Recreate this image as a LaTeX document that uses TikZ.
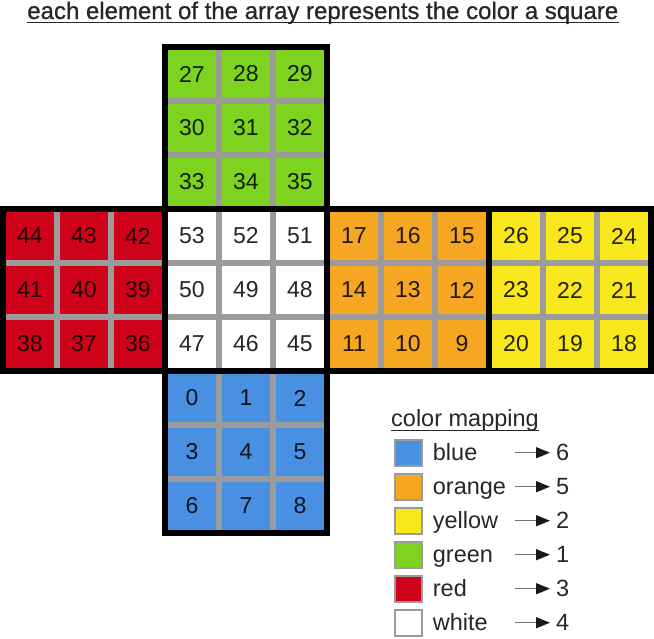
\documentclass[tikz,border=0pt]{standalone}
\usepackage{fontspec}
\setmainfont{Liberation Sans}
\usetikzlibrary{arrows.meta,positioning}

\definecolor{cgreen}{HTML}{7ED321}
\definecolor{cred}{HTML}{D0021B}
\definecolor{corange}{HTML}{F5A623}
\definecolor{cyellow}{HTML}{F8E71C}
\definecolor{cblue}{HTML}{4A90E2}
\definecolor{cgrid}{HTML}{9B9B9B}

\begin{document}
\begin{tikzpicture}[
  x=1pt, y=-1pt,
  face/.style={draw=black, line width=6pt, minimum size=162pt, inner sep=0pt, outer sep=0pt},
  gridline/.style={draw=cgrid, line width=5.5pt},
  num/.style={font=\fontsize{23}{27}\selectfont, text=black, text opacity=0.85, inner sep=0pt},
  heading/.style={font=\fontsize{24}{28}\selectfont\addfontfeature{FakeBold=0.7}, text=black!85, inner sep=0pt},
  swatch/.style={draw=cgrid, line width=2pt, minimum width=27pt, minimum height=26pt, inner sep=0pt},
  maptext/.style={font=\fontsize{23.5}{28}\selectfont, text=black!85, inner sep=0pt},
  maparrow/.style={draw=black!55, line width=1.5pt, -{Triangle[length=14pt,width=11pt,black!90]}}
]
\useasboundingbox (0,0) rectangle (654,638);

% title
\node[heading, anchor=base] (title) at (322.8,19) {each element of the array represents the color a square};
\draw[line width=1.5pt, black!85] ([yshift=-3.7pt]title.base west) -- ([yshift=-3.7pt]title.base east);

% the six faces of the cube net
\foreach \fn/\fx/\fy/\base/\sgn/\col in {top/165/47/27/1/cgreen, left/3/209/44/-1/cred,
    front/165/209/53/-1/white, right/327/209/17/-1/corange, back/489/209/26/-1/cyellow,
    bottom/165/371/0/1/cblue} {
  \node[face, fill=\col] (\fn) at (\fx+81,\fy+81) {};
  \foreach \k in {54,108} {
    \draw[gridline] (\fx+\k,\fy+3) -- (\fx+\k,\fy+159);
    \draw[gridline] (\fx+3,\fy+\k) -- (\fx+159,\fy+\k);
  }
  \foreach \r in {0,1,2}
    \foreach \c in {0,1,2} {
      \pgfmathtruncatemacro{\n}{\base+\sgn*(3*\r+\c)}
      \node[num] (c\n) at (\fx+27+54*\c,\fy+27+54*\r) {\n};
    }
}

% legend
\node[maptext, anchor=base west] (maptitle) at (391,426.7) {color mapping};
\draw[line width=1.5pt, black!85] ([yshift=-4pt]maptitle.base west) -- ([yshift=-4pt]maptitle.base east);
\foreach \i/\col/\name/\val in {0/cblue/blue/6, 1/corange/orange/5, 2/cyellow/yellow/2,
    3/cgreen/green/1, 4/cred/red/3, 5/white/white/4} {
  \node[swatch, fill=\col] (s\i) at (408.8,452.7+34*\i) {};
  \node[maptext, anchor=base west] (t\i) at (432.7,460+34*\i) {\name};
  \coordinate (a\i) at (515,452.7+34*\i);
  \node[maptext, anchor=west, inner xsep=6pt] (v\i) at (550,452.7+34*\i) {\val};
  \draw[maparrow] (a\i) -- (v\i);
}
\end{tikzpicture}
\end{document}
